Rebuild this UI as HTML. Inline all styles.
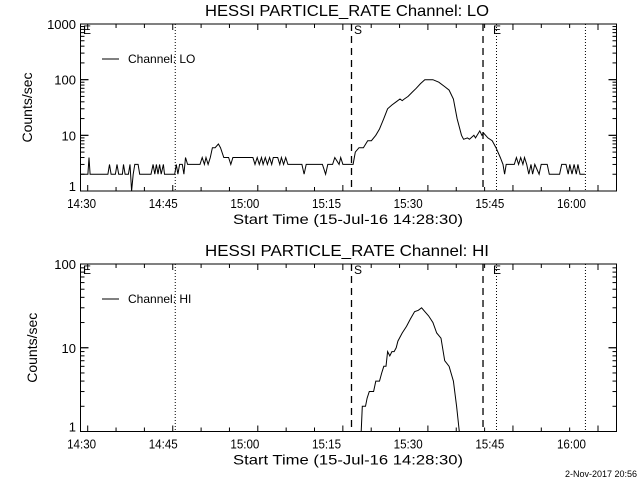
<!DOCTYPE html>
<html><head><meta charset="utf-8"><style>
html,body{margin:0;padding:0;background:#fff;}
svg{display:block;font-family:"Liberation Sans",sans-serif;}
</style></head><body>
<svg id="c" width="640" height="480" xmlns="http://www.w3.org/2000/svg"></svg>
<script>
// data: time in minutes after 14:30
const loTimes=[-0.2,1.1,1.3,1.5,4.8,5.1,5.4,6.2,6.5,6.8,7.5,7.7,8.0,8.6,8.9,9.2,9.5,9.8,10.4,10.7,12.8,13.2,13.5,13.8,14.1,14.4,14.7,15.1,15.3,17.2,17.5,17.8,18.1,18.6,18.9,19.2,19.6,20.1,21.9,22.3,22.7,23.0,23.4,23.8,24.2,24.7,25.3,25.7,26.3,27.2,27.6,28.0,31.7,32.1,32.5,32.9,33.3,33.6,34.0,34.4,34.8,35.2,35.5,36.3,36.7,37.0,37.4,37.8,38.2,40.8,41.2,41.6,44.6,45.2,45.6,46.5,46.9,47.7,48.0,48.4,50.3,50.7,51.4,52.2,53.0,53.7,54.5,55.2,56.0,56.7,57.5,58.3,59.0,59.4,59.8,60.5,61.3,62.0,62.8,63.6,65.1,66.2,67.3,68.1,68.9,69.6,70.4,70.8,71.5,71.9,72.7,73.0,73.8,74.2,74.5,75.3,76.1,76.8,77.6,78.1,78.4,78.7,80.2,80.6,81.0,81.4,81.8,82.1,82.5,82.9,83.3,83.6,84.0,84.8,85.2,86.3,86.7,88.6,89.0,89.8,90.2,90.5,90.9,91.3,91.7,92.0,92.4,93.3];
const loValues=[2,2,4,2,2,3,2,2,3,2,2,3,2,2,3,1,2,3,3,2,2,3,2,3,2,3,2,3,2,2,3,2,3,3,2,4,3,3,3,4,3,4,3,4,6,6,7,6,4,4,3,4,4,3,4,3,4,3,4,3,4,3,4,4,3,4,3,4,3,3,2,3,3,2,3,3,4,3,4,3,3,5,6,6,8,8,10,13,20,30,35,40,45,42,45,50,60,70,85,100,100,90,75,65,45,20,10,8.5,9,8.5,10,9,12,10,11,9,8,6,4,3,2,3,3,4,3,4,3,4,3,2,3,2,3,2,3,3,2,2,3,3,2,3,2,3,2,3,2,2];
const hiTimes=[51.8,52.0,52.6,52.9,53.3,54.1,54.5,55.2,55.6,56.0,56.4,56.7,57.1,57.5,57.9,58.3,58.6,59.4,60.2,60.9,61.7,62.4,63.0,63.6,64.3,65.1,65.8,66.6,67.3,68.1,68.9,69.5,70.0];
const hiValues=[1,2,2,2.5,3,3,4,4,5,6,6,9,8,9,9,10,12,15,18,22,27,28,30,27,24,20,15,13,7,6,4,2,1];
const tickLabels=["14:30","14:45","15:00","15:15","15:30","15:45","16:00"];
const tickMinutes=[0,15,30,45,60,75,90];
const loYTicks=[1,10,100,1000];
const hiYTicks=[1,10,100];
const dottedMin=[17.3,76.9,93.4];
const dashedMin=[50.0,74.4];

const NS="http://www.w3.org/2000/svg";
const svg=document.getElementById('c');
function el(tag,attrs,parent){const e=document.createElementNS(NS,tag);for(const k in attrs)e.setAttribute(k,attrs[k]);(parent||svg).appendChild(e);return e;}
const X0=80.5,X1=616.5;
function xs(m){return 82+5.39*m;}
function xl(m){return 81.6+5.443*m;}

function panel(cfg){
  const g=el('g',{});
  
  
  const top=cfg.top,bot=cfg.bot,dec=cfg.decades;
  const ys=v=>bot-(bot-top)*Math.log10(Math.max(v,1e-9))/dec;
  const ymin=v=>Math.min(bot,ys(v));
  const t=el('text',{x:347,y:top-8,'text-anchor':'middle','font-size':16,textLength:284,lengthAdjust:'spacingAndGlyphs'},g);
  t.textContent=cfg.title;
  
  
  const f=el('rect',{x:X0,y:top,width:X1-X0,height:bot-top,fill:'none',stroke:'#000','stroke-width':1},g);
  
  
  for(let d=0;d<dec;d++){for(let k=1;k<=9;k++){const y=ys(Math.pow(10,d)*k);const len=k===1?8:4;
    el('line',{x1:X0,x2:X0+len,y1:y,y2:y,stroke:'#000'},g);el('line',{x1:X1,x2:X1-len,y1:y,y2:y,stroke:'#000'},g);}}
  cfg.yticks.forEach((v,i)=>{const y=ys(v);
    el('line',{x1:X0,x2:X0+8,y1:y,y2:y,stroke:'#000'},g);el('line',{x1:X1,x2:X1-8,y1:y,y2:y,stroke:'#000'},g);
    const lb=el('text',{x:76,y:i===0?y:y+5,'text-anchor':'end','font-size':13},g);lb.textContent=String(v);
    
    });
  for(let k=0;k<=18;k++){const x=87.7+28.35*k;if(x>X1)break;const len=(k%3===0)?6:4;
    el('line',{x1:x,x2:x,y1:bot,y2:bot-len,stroke:'#000'},g);el('line',{x1:x,x2:x,y1:top,y2:top+len,stroke:'#000'},g);}
  tickMinutes.forEach((m,i)=>{const lb=el('text',{x:xl(m),y:bot+17,'text-anchor':'middle','font-size':13,textLength:29,lengthAdjust:'spacingAndGlyphs'},g);lb.textContent=tickLabels[i];
    
    });
  const xt=el('text',{x:348,y:bot+33,'text-anchor':'middle','font-size':14,textLength:230,lengthAdjust:'spacingAndGlyphs'},g);
  xt.textContent='Start Time (15-Jul-16 14:28:30)';
  
  
  const yt=el('text',{x:0,y:0,'text-anchor':'middle','font-size':14,transform:`translate(${cfg.ylx},${(top+bot)/2}) rotate(-90)`},g);
  yt.textContent='Counts/sec';
  
  
  dottedMin.forEach(m=>{const l=el('line',{x1:xs(m),x2:xs(m),y1:top,y2:bot,stroke:'#000','stroke-dasharray':'1,2'},g);
    
    });
  dashedMin.forEach(m=>{const l=el('line',{x1:xs(m),x2:xs(m),y1:top,y2:bot,stroke:'#000','stroke-dasharray':'7,5','stroke-width':1.3},g);
    
    });
  [['E',83],['S',354],['E',493]].forEach(([s,x])=>{const lb=el('text',{x:x,y:top+10,'font-size':12},g);lb.textContent=s;
    
    });
  el('line',{x1:102,x2:119,y1:top+35,y2:top+35,stroke:'#000'},g);
  const lg=el('text',{x:128,y:top+39,'font-size':12},g);lg.textContent=cfg.legend;
  
  
  const pts=cfg.t.map((m,i)=>xs(m).toFixed(1)+','+ymin(cfg.v[i]).toFixed(1)).join(' ');
  const pl=el('polyline',{points:pts,fill:'none',stroke:'#000','stroke-width':1},g);
  
  
}
panel({name:'lo',top:24,bot:191,decades:3,title:'HESSI PARTICLE_RATE Channel: LO',yticks:loYTicks,legend:'Channel: LO',t:loTimes,v:loValues,ylx:32});
panel({name:'hi',top:264,bot:431.5,decades:2,title:'HESSI PARTICLE_RATE Channel: HI',yticks:hiYTicks,legend:'Channel: HI',t:hiTimes,v:hiValues,ylx:37});
const ts=el('text',{x:637,y:477,'text-anchor':'end','font-size':9});
ts.textContent='2-Nov-2017 20:56';


</script>
</body></html>
